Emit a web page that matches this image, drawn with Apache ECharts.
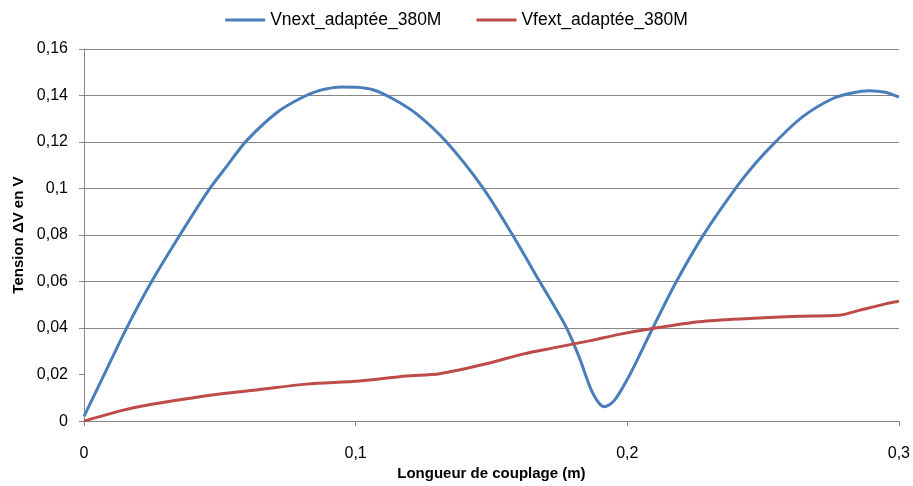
<!DOCTYPE html>
<html>
<head>
<meta charset="utf-8">
<script src="https://cdn.jsdelivr.net/npm/echarts@6/dist/echarts.min.js"></script>
<style>html,body{margin:0;padding:0;background:#fff}#c{width:913px;height:486px}</style>
</head>
<body>
<div id="c"></div>
<script>
const seriesNames = ['Vnext_adaptée_380M', 'Vfext_adaptée_380M'];
const xAxisTitle = 'Longueur de couplage (m)';
const yAxisTitle = 'Tension ΔV en V';

const vnextX = [0.000, 0.007, 0.0157, 0.0249, 0.0353, 0.0457, 0.0525, 0.0598, 0.0708, 0.0794, 0.0868, 0.0950, 0.1003, 0.1064, 0.1137, 0.1223, 0.1333, 0.1468, 0.1578, 0.1676, 0.1775, 0.1824, 0.1872, 0.1915, 0.1952, 0.2007, 0.2093, 0.2179, 0.2283, 0.2400, 0.2473, 0.2547, 0.2645, 0.2755, 0.2828, 0.2890, 0.2951, 0.3000];
const vnextY = [0.002, 0.019, 0.040, 0.060, 0.0800, 0.0990, 0.1095, 0.1205, 0.1325, 0.1386, 0.1422, 0.1437, 0.1436, 0.1425, 0.1386, 0.1322, 0.1202, 0.1004, 0.080, 0.0603, 0.0404, 0.0272, 0.0123, 0.0062, 0.0088, 0.0194, 0.0398, 0.0596, 0.0805, 0.1003, 0.111, 0.1202, 0.1308, 0.1386, 0.1411, 0.1421, 0.1414, 0.1393];

const vfextX = [0.000, 0.0145, 0.023, 0.0353, 0.050, 0.0635, 0.0819, 0.1015, 0.1186, 0.1309, 0.1493, 0.1615, 0.1738, 0.1860, 0.1970, 0.2093, 0.2265, 0.2449, 0.2632, 0.2779, 0.2853, 0.2951, 0.3000];
const vfextY = [0.000, 0.0047, 0.0068, 0.0092, 0.0117, 0.0134, 0.0159, 0.0172, 0.0194, 0.0204, 0.025, 0.0288, 0.0317, 0.0345, 0.0373, 0.0398, 0.0427, 0.0441, 0.0451, 0.0455, 0.0476, 0.0504, 0.0515];

const pairs = (xs, ys) => xs.map((x, i) => [x, ys[i]]);
const fmt = v => String(+v.toFixed(4)).replace('.', ',');
const gridCol = '#868686';
const font = 'Liberation Sans';

const chart = echarts.init(document.getElementById('c'), null, {renderer: 'canvas'});
chart.setOption({
  animation: false,
  backgroundColor: '#fff',
  color: ['#4a7ebb', '#be4b48'],
  legend: {
    top: 6, left: 'center',
    icon: 'rect', itemWidth: 40, itemHeight: 3, itemGap: 35,
    textStyle: {fontFamily: font, fontSize: 17.5, color: '#000'},
    data: seriesNames
  },
  grid: {left: 84, right: 13, top: 49, bottom: 59, containLabel: false},
  xAxis: {
    type: 'value', min: 0, max: 0.3, interval: 0.1,
    name: xAxisTitle, nameLocation: 'middle', nameGap: 43,
    nameTextStyle: {fontFamily: font, fontSize: 15, fontWeight: 'bold', color: '#000'},
    axisLine: {show: true, lineStyle: {color: gridCol, width: 1}},
    axisTick: {show: true, length: 5, lineStyle: {color: gridCol}},
    splitLine: {show: false},
    axisLabel: {fontFamily: font, fontSize: 16, color: '#000', margin: 24, formatter: fmt}
  },
  yAxis: {
    type: 'value', min: 0, max: 0.16, interval: 0.02,
    name: yAxisTitle, nameLocation: 'middle', nameGap: 58, nameRotate: 90,
    nameTextStyle: {fontFamily: font, fontSize: 15, fontWeight: 'bold', color: '#000'},
    axisLine: {show: true, lineStyle: {color: gridCol, width: 1}},
    axisTick: {show: true, length: 5, lineStyle: {color: gridCol}},
    splitLine: {show: true, lineStyle: {color: [gridCol, 'rgba(0,0,0,0)', gridCol, gridCol, gridCol, gridCol, gridCol, gridCol, gridCol], width: 1}},
    axisLabel: {fontFamily: font, fontSize: 16, color: '#000', margin: 16, formatter: fmt}
  },
  series: [
    {name: seriesNames[0], type: 'line', smooth: 0.3, symbol: 'none', lineStyle: {width: 3}, data: pairs(vnextX, vnextY)},
    {name: seriesNames[1], type: 'line', smooth: 0.3, symbol: 'none', lineStyle: {width: 3}, data: pairs(vfextX, vfextY)}
  ]
});
</script>
</body>
</html>
